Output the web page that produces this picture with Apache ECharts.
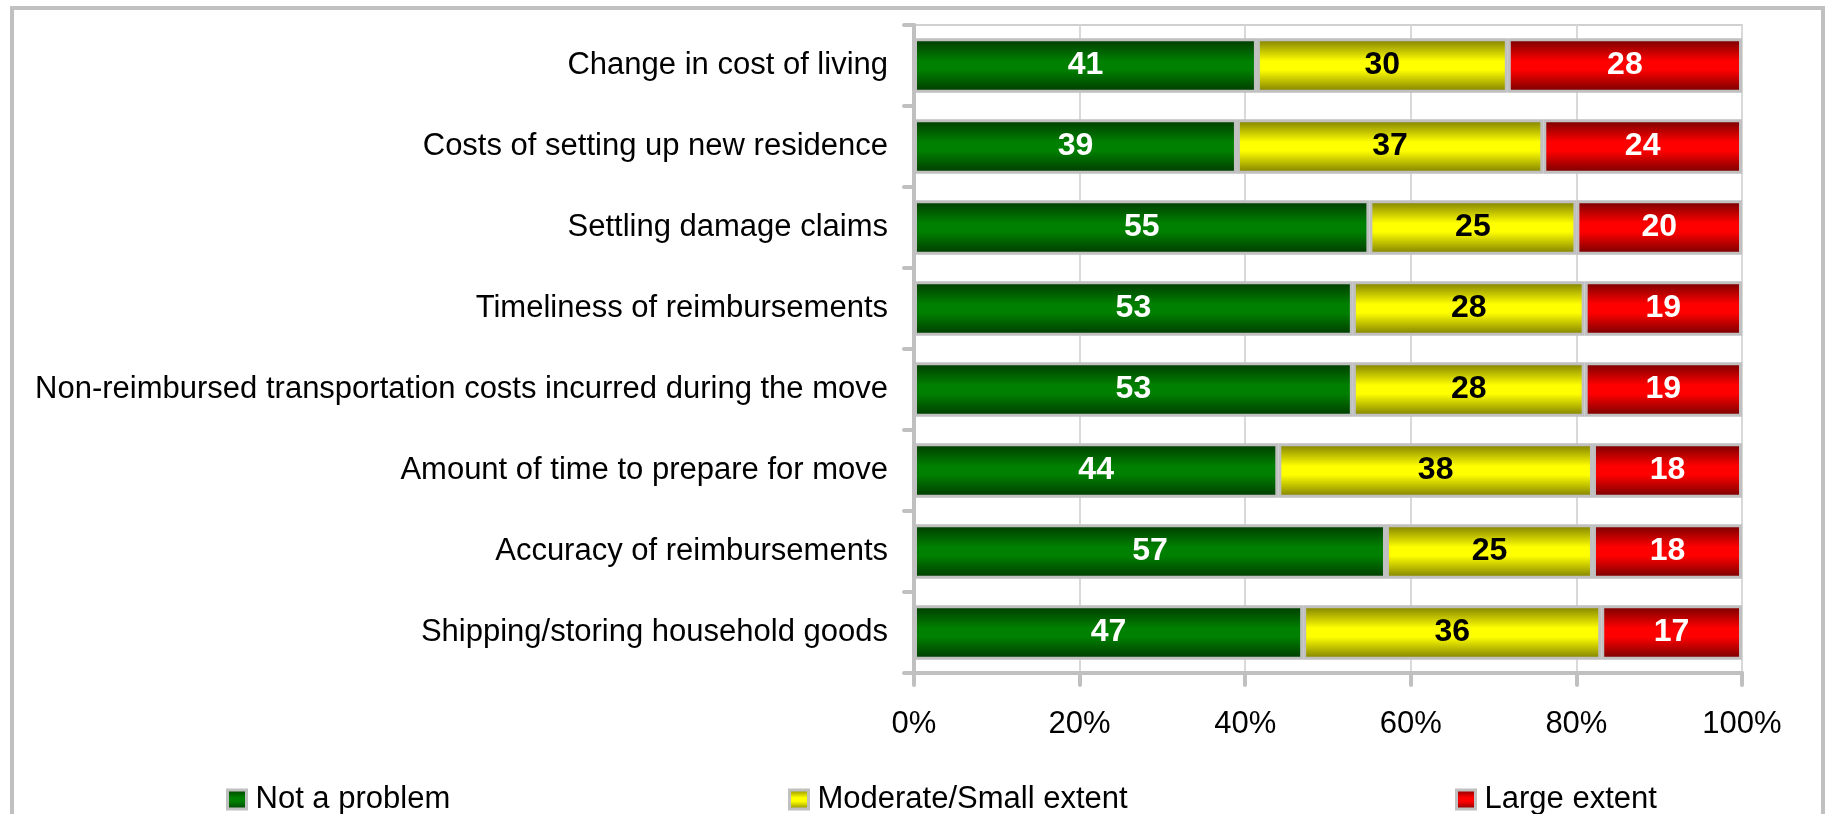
<!DOCTYPE html>
<html>
<head>
<meta charset="utf-8">
<title>Moving problems</title>
<script src="https://cdn.jsdelivr.net/npm/echarts@6/dist/echarts.min.js"></script>
<style>
  html, body { margin: 0; padding: 0; background: #fff; }
  #main { width: 1827px; height: 814px; }
</style>
</head>
<body>
<div id="main"></div>
<script>
// categories, top to bottom
var categories = [
    'Change in cost of living',
    'Costs of setting up new residence',
    'Settling damage claims',
    'Timeliness of reimbursements',
    'Non-reimbursed transportation costs incurred during the move',
    'Amount of time to prepare for move',
    'Accuracy of reimbursements',
    'Shipping/storing household goods'
];
var notProblem = [41, 39, 55, 53, 53, 44, 57, 47];
var moderate   = [30, 37, 25, 28, 28, 38, 25, 36];
var large      = [28, 24, 20, 19, 19, 18, 18, 17];
var xTicks = [0, 20, 40, 60, 80, 100];

var FONT = '"Liberation Sans", Arial, sans-serif';

// 100% stacked: each row is scaled to its own total
function share(arr) {
    return arr.map(function (v, i) {
        var total = notProblem[i] + moderate[i] + large[i];
        return v / total * 100;
    });
}

function grad(dark, bright) {
    return new echarts.graphic.LinearGradient(0, 0, 0, 1, [
        {offset: 0, color: dark},
        {offset: 0.42, color: bright},
        {offset: 0.58, color: bright},
        {offset: 1, color: dark}
    ]);
}

function makeSeries(name, raw, dark, bright, txt) {
    return {
        name: name,
        type: 'bar',
        stack: 'total',
        barCategoryGap: '33%',
        data: share(raw),
        itemStyle: {
            color: grad(dark, bright),
            borderColor: '#c0c0c0',
            borderWidth: 3
        },
        label: {
            show: true,
            position: 'inside',
            color: txt,
            fontFamily: FONT,
            fontWeight: 'bold',
            fontSize: 32,
            formatter: function (p) { return raw[p.dataIndex]; }
        },
        emphasis: { disabled: true }
    };
}

function makeLegend(name, left) {
    return {
        data: [name],
        left: left,
        top: 784,
        padding: 0,
        icon: 'rect',
        itemWidth: 19,
        itemHeight: 19,
        itemGap: 0,
        selectedMode: false,
        itemStyle: { borderColor: '#c0c0c0', borderWidth: 3 },
        textStyle: { fontFamily: FONT, fontSize: 31, color: '#000', padding: [0, 0, 0, 4] }
    };
}

var myChart = echarts.init(document.getElementById('main'));
var option = {
    animation: false,
    backgroundColor: '#fff',
    graphic: [{
        type: 'rect',
        shape: { x: 12, y: 8, width: 1811, height: 860 },
        style: { fill: 'none', stroke: '#c0c0c0', lineWidth: 4 },
        z: 100
    }],
    legend: [
        makeLegend('Not a problem', 226),
        makeLegend('Moderate/Small extent', 788),
        makeLegend('Large extent', 1455)
    ],
    grid: {
        left: 914,
        right: 85,
        top: 25,
        bottom: 141,
        show: true,
        borderColor: '#d0d0d0',
        borderWidth: 2
    },
    xAxis: {
        type: 'value',
        min: xTicks[0],
        max: xTicks[xTicks.length - 1],
        interval: xTicks[1] - xTicks[0],
        axisLine: { show: true, lineStyle: { color: '#c0c0c0', width: 4 } },
        axisTick: { show: true, length: 12, lineStyle: { color: '#c0c0c0', width: 4, cap: 'round' } },
        splitLine: { show: true, lineStyle: { color: '#d9d9d9', width: 2 } },
        axisLabel: {
            margin: 36,
            fontFamily: FONT,
            fontSize: 31,
            color: '#000',
            formatter: '{value}%'
        }
    },
    yAxis: {
        type: 'category',
        inverse: true,
        data: categories,
        axisLine: { show: true, lineStyle: { color: '#c0c0c0', width: 4 } },
        axisTick: { show: true, length: 10, lineStyle: { color: '#c0c0c0', width: 4, cap: 'round' } },
        axisLabel: {
            margin: 26,
            fontFamily: FONT,
            fontSize: 31,
            color: '#000'
        }
    },
    series: [
        makeSeries('Not a problem', notProblem, '#003800', '#008000', '#fff'),
        makeSeries('Moderate/Small extent', moderate, '#7a7a00', '#ffff00', '#000'),
        makeSeries('Large extent', large, '#700000', '#ff0000', '#fff')
    ]
};
myChart.setOption(option);
window.addEventListener('resize', function () { myChart.resize(); });
</script>
</body>
</html>
